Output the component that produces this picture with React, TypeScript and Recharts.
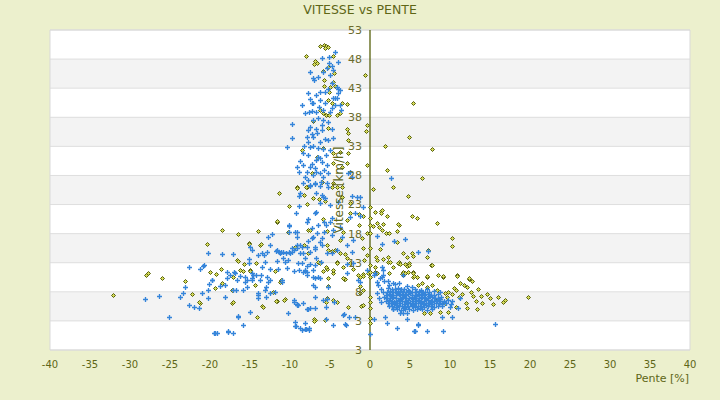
import { ScatterChart, Scatter, XAxis, YAxis, CartesianGrid, ReferenceLine, ReferenceDot } from 'recharts';

// VITESSE vs PENTE : pente [%], vitesse [km/h]

const xTicks = [-40, -35, -30, -25, -20, -15, -10, -5, 0, 5, 10, 15, 20, 25, 30, 35, 40];
const yTicks = [-2, 3, 8, 13, 18, 23, 28, 33, 38, 43, 48, 53];
const yTickLabels = ['3', '3', '8', '13', '18', '23', '28', '33', '38', '43', '48', '53'];

// blue crosses
const pointsBleus: [number, number][] = [
  // left tail
  [-20.2, 14.7], [-18.5, 14.5], [-17.1, 14.5], [-22.6, 12.3], [-20.7, 12.6], [-21.2, 11.9], [-20.1, 9.3], [-19.7, 10.0],
  [-23.4, 7.8], [-23.1, 8.8], [-23.8, 7.1], [-28.1, 6.8], [-26.4, 7.3], [-25.1, 3.7], [-22.6, 5.7], [-22.0, 5.4],
  [-21.4, 5.2], [-21.0, 7.8], [-20.2, 6.9], [-19.5, 0.9], [-19.1, 0.9], [-17.7, 1.3], [-17.1, 0.9], [-16.5, 3.7],
  [-15.9, 2.3], [-18.8, 9.0], [-18.1, 9.2], [-17.9, 10.4], [-17.5, 10.9], [-17.0, 11.4], [-16.7, 8.3], [-16.6, 10.0],
  [-16.3, 10.7], [-15.6, 10.5], [-15.6, 9.7], [-15.4, 8.8], [-15.9, 8.3], [-15.1, 13.6], [-15.1, 13.0], [-15.0, 4.5],
  [-14.8, 11.2], [-14.7, 10.4], [-14.2, 10.9], [-14.0, 7.8], [-14.0, 6.9], [-13.6, 10.9], [-13.5, 12.3], [-13.3, 14.3],
  [-13.1, 13.1], [-13.0, 8.8], [-13.0, 7.1], [-12.7, 17.4], [-12.3, 17.9], [-12.5, 16.0], [-12.5, 10.0], [-12.5, 7.8],
  [-11.9, 8.0], [-11.7, 15.0], [-11.4, 14.8], [-11.1, 14.8], [-10.9, 13.8], [-10.5, 14.7], [-10.2, 13.5], [-10.1, 19.3],
  [-10.4, 12.1], [-10.2, 4.4], [-10.0, 14.7], [-9.8, 14.9], [-9.5, 15.2], [-9.5, 6.2], [-9.4, 2.8], [-9.1, 15.5],
  [-9.1, 18.3], [-9.0, 13.0], [-9.1, 5.9], [-9.3, 2.1], [-8.7, 16.0], [-8.5, 13.0], [-8.5, 1.4], [-8.4, 11.4],
  [-8.4, 14.7], [-8.1, 2.6], [-8.1, 1.6], [-7.9, 11.4], [-7.9, 5.0], [-7.7, 16.7], [-7.5, 12.8], [-7.2, 17.2],
  [-6.9, 15.4], [-6.7, 13.8], [-6.5, 19.5], [-6.3, 10.4], [-6.1, 13.1], [-5.9, 6.6], [-5.8, 20.0], [-5.5, 3.3],
  [-5.4, 14.7],
  [-15.0, 15.7], [-14.75, 15.2], [-14.0, 14.3], [-13.5, 14.7], [-12.9, 14.8], [-11.6, 15.2], [-11.25, 14.7], [-10.9, 14.8],
  [-10.6, 13.1], [-10.1, 14.8], [-9.75, 15.5], [-9.1, 16.0], [-8.5, 15.7], [-8.75, 14.7], [-11.6, 13.3], [-9.5, 11.6],
  [-8.9, 11.7], [-8.1, 11.6], [-7.9, 12.4], [-11.5, 11.9], [-12.5, 11.9], [-12.9, 10.5], [-13.75, 10.0], [-14.6, 10.9],
  [-14.75, 10.0], [-15.4, 10.0], [-12.75, 9.7], [-11.0, 9.7], [-11.0, 10.0], [-13.1, 8.3], [-14.0, 7.5], [-17.1, 8.3],
  [-18.1, 7.1], [-19.75, 10.0], [-20.25, 8.3], [-20.9, 12.4], [-16.9, 11.2], [-17.9, 11.4], [-16.5, 3.8], [-17.75, 1.1],
  [-19.4, 0.9],
  // lower peak
  [-8.75, 25.0], [-8.9, 24.5], [-7.5, 26.2], [-6.9, 26.5], [-6.7, 25.0], [-6.1, 26.9], [-6.0, 24.6], [-5.9, 24.3],
  [-5.6, 24.1], [-5.4, 26.7], [-5.2, 26.0], [-5.0, 22.9], [-8.9, 22.7], [-9.25, 21.5], [-10.1, 19.5], [-9.4, 18.3],
  [-10.1, 18.3], [-9.1, 17.4], [-7.9, 20.0], [-7.75, 20.5], [-6.9, 21.5], [-6.7, 21.7], [-6.25, 23.3], [-7.25, 19.0],
  [-6.6, 18.1], [-7.1, 17.4], [-6.25, 16.6], [-6.0, 16.0], [-6.9, 15.7], [-7.5, 14.8], [-6.9, 12.6], [-7.1, 10.5],
  [-6.9, 10.4], [-6.5, 10.5], [-5.0, 20.0], [-4.75, 17.8], [-4.6, 18.6], [-4.1, 15.2], [-3.75, 19.1], [-2.25, 24.5],
  [-1.6, 24.3], [-1.25, 24.3], [-1.9, 21.5], [-1.25, 21.0], [-0.9, 22.6], [-2.9, 12.8], [-2.9, 11.2], [-2.1, 13.0],
  [-1.5, 10.0], [-1.25, 9.7], [-3.25, 4.2], [-3.0, 2.3], [-4.6, 2.3], [-5.5, 5.4], [-4.5, 6.2], [-6.9, 7.1],
  [-7.5, 5.2], [-7.75, 5.0], [-9.4, 2.1], [-8.75, 1.8], [-8.0, 1.6], [-7.6, 1.4], [-9.5, 6.6], [-9.1, 5.7],
  [-9.0, 5.7], [-7.6, 1.8], [-3.1, 2.5], [-3.4, 4.0], [-2.6, 3.7], [-1.9, 3.7], [-6.9, 5.2], [-8.4, 6.1],
  [-5.4, 6.8], [-7.1, 9.2], [-8.1, 11.7], [-4.75, 14.7], [-2.25, 14.8], [-2.1, 16.9], [-3.5, 17.4], [-2.9, 16.0],
  [-7.9, 15.7], [-8.1, 13.8], [-5.75, 18.3], [-5.5, 19.5], [-4.75, 20.7], [-2.5, 20.9], [-4.0, 23.4], [-6.0, 17.2],
  [-7.1, 11.7], [-7.9, 10.9], [-5.25, 8.8], [-6.9, 8.8],
  // upper peak
  [-6.0, 48.2], [-5.1, 48.4], [-4.4, 49.2], [-4.0, 47.5], [-5.1, 47.3], [-4.75, 46.8], [-5.4, 46.5], [-4.6, 46.1],
  [-5.9, 45.8], [-7.5, 45.8], [-7.1, 44.8], [-7.0, 44.4], [-6.5, 44.9], [-5.0, 45.3], [-4.75, 43.9], [-4.1, 43.2],
  [-4.0, 42.9], [-3.75, 42.7], [-4.0, 42.2], [-5.25, 42.9], [-5.6, 42.3], [-6.25, 42.3], [-6.7, 41.8], [-7.75, 42.2],
  [-7.5, 41.1], [-7.1, 40.5], [-7.25, 40.5], [-8.5, 40.1], [-6.25, 41.0], [-5.6, 40.5], [-4.6, 41.3], [-4.4, 41.3],
  [-4.1, 41.3], [-4.4, 40.1], [-3.75, 40.1], [-3.6, 39.3], [-4.75, 39.6], [-5.0, 38.9], [-5.9, 39.3], [-6.7, 38.9],
  [-8.1, 38.7], [-7.6, 38.9], [-7.25, 39.1], [-7.1, 37.5], [-7.5, 36.3], [-6.5, 37.9], [-5.9, 37.5], [-5.25, 37.2],
  [-4.75, 36.0], [-6.0, 36.7], [-9.75, 36.8], [-9.75, 34.4], [-10.4, 32.9], [-7.9, 34.6], [-7.25, 35.1], [-7.1, 34.6],
  [-6.6, 35.3], [-6.0, 35.8], [-5.6, 34.3], [-5.25, 34.1], [-4.6, 34.4], [-7.75, 33.8], [-7.5, 32.9], [-7.1, 33.1],
  [-6.5, 32.7], [-5.9, 32.5], [-5.0, 32.4], [-8.4, 31.9], [-7.75, 31.5], [-6.5, 31.2], [-6.25, 31.0], [-8.75, 30.5],
  [-8.4, 29.8], [-7.5, 29.5], [-7.25, 30.0], [-6.7, 30.7], [-6.0, 30.3], [-5.4, 29.8], [-9.1, 29.5], [-8.9, 28.6],
  [-7.9, 28.6], [-8.1, 27.7], [-7.75, 27.2], [-7.1, 28.1], [-6.7, 28.6], [-6.25, 28.4], [-5.9, 27.7], [-5.25, 28.4],
  [-8.4, 26.7], [-7.5, 26.4], [-6.9, 26.7], [-6.25, 26.2], [-2.75, 28.4], [-2.25, 27.7], [-2.5, 28.6], [-6.8, 36.0],
  [-6.3, 33.8], [-5.5, 31.5], [-7.8, 35.8], [-6.9, 29.2], [-5.8, 29.0], [-8.2, 33.0], [-6.4, 39.8],
  // right of the axis
  [2.6, 27.6], [0.9, 17.6], [1.5, 16.2], [3.0, 16.7], [4.4, 17.1], [6.0, 14.8], [0.5, 10.9], [0.85, 9.7],
  [1.5, 10.5], [1.9, 3.7], [3.4, 1.8], [4.6, 4.4], [5.6, 1.3], [6.0, 2.3], [7.1, 1.3], [9.1, 1.3],
  [7.25, 15.0], [0.0, 0.7], [0.5, 3.3],
  [1.5, 12.3], [1.6, 11.7], [1.6, 10.9], [1.25, 10.4], [1.75, 9.8], [1.0, 9.2], [1.4, 8.5], [1.6, 8.0],
  [0.9, 7.8], [1.1, 6.9], [1.4, 6.2], [1.75, 7.1], [-0.4, 11.7], [0.6, 11.2], [2.9, 9.5], [3.1, 9.3],
  [4.1, 10.9], [2.1, 2.6], [4.6, 3.3], [6.0, 2.4], [9.0, 3.7], [10.25, 3.7], [15.6, 2.5], [3.75, 4.4],
  [4.1, 4.4], [2.9, 5.0], [11.25, 6.9], [11.0, 5.2], [10.0, 5.4], [8.75, 8.0], [5.5, 1.3],
  [2.4, 9.2], [3.6, 9.6], [2.2, 9.9], [4.6, 9.0], [5.3, 8.9],
  // dense cluster
  [2.3, 8.6], [2.7, 8.4], [3.1, 8.5], [3.5, 8.6], [3.9, 8.4], [4.3, 8.5], [4.8, 8.3], [5.6, 8.4], [6.4, 8.3], [7.1, 8.4],
  [2.1, 8.0], [2.5, 8.1], [2.9, 7.9], [3.3, 8.0], [3.7, 8.1], [4.1, 7.9], [4.5, 8.0], [4.9, 8.1], [5.3, 7.9], [5.7, 8.0],
  [6.1, 8.1], [6.5, 7.9], [6.9, 8.0], [7.4, 7.9], [8.0, 8.1],
  [2.0, 7.5], [2.4, 7.6], [2.8, 7.4], [3.2, 7.5], [3.6, 7.6], [4.0, 7.4], [4.4, 7.5], [4.8, 7.6], [5.2, 7.4], [5.6, 7.5],
  [6.0, 7.6], [6.4, 7.4], [6.8, 7.5], [7.2, 7.6], [7.6, 7.4], [8.0, 7.5], [8.5, 7.6],
  [2.1, 7.0], [2.5, 6.9], [2.9, 7.1], [3.3, 7.0], [3.7, 6.9], [4.1, 7.1], [4.5, 7.0], [4.9, 6.9], [5.3, 7.1], [5.7, 7.0],
  [6.1, 6.9], [6.5, 7.1], [6.9, 7.0], [7.3, 6.9], [7.7, 7.1], [8.1, 7.0], [8.5, 6.9], [8.9, 7.1],
  [2.0, 6.5], [2.4, 6.6], [2.8, 6.4], [3.2, 6.5], [3.6, 6.6], [4.0, 6.4], [4.4, 6.5], [4.8, 6.6], [5.2, 6.4], [5.6, 6.5],
  [6.0, 6.6], [6.4, 6.4], [6.8, 6.5], [7.2, 6.6], [7.6, 6.4], [8.0, 6.5], [8.4, 6.6], [8.8, 6.4], [9.2, 6.5], [9.7, 6.6],
  [10.3, 6.4],
  [2.2, 6.0], [2.6, 6.1], [3.0, 5.9], [3.4, 6.0], [3.8, 6.1], [4.2, 5.9], [4.6, 6.0], [5.0, 6.1], [5.4, 5.9], [5.8, 6.0],
  [6.2, 6.1], [6.6, 5.9], [7.0, 6.0], [7.4, 6.1], [7.8, 5.9], [8.2, 6.0], [8.6, 6.1], [9.0, 5.9], [9.5, 6.0], [10.1, 5.9],
  [2.4, 5.5], [2.8, 5.6], [3.2, 5.4], [3.6, 5.5], [4.0, 5.6], [4.4, 5.4], [4.8, 5.5], [5.2, 5.6], [5.6, 5.4], [6.0, 5.5],
  [6.4, 5.6], [6.8, 5.4], [7.2, 5.5], [7.6, 5.6], [8.0, 5.4], [8.5, 5.5], [9.0, 5.6],
  [2.9, 5.0], [3.4, 5.1], [3.9, 4.9], [4.4, 5.0], [4.9, 5.1], [5.4, 4.9], [5.9, 5.0], [6.5, 5.1], [7.1, 4.9], [7.8, 5.0],
  [2.6, 7.25], [3.4, 7.75], [4.2, 7.25], [5.0, 7.75], [5.8, 7.25], [6.6, 7.75], [7.4, 7.25], [3.0, 6.25], [3.8, 6.75],
  [4.6, 6.25], [5.4, 6.75], [6.2, 6.25], [7.0, 6.75], [7.8, 6.25], [3.2, 5.75], [4.2, 5.25], [5.2, 5.75], [6.2, 5.25],
  [7.0, 5.75], [8.8, 6.75], [9.3, 6.25],
];

// olive diamonds
const pointsOlive: [number, number][] = [
  // peak
  [-6.25, 50.2], [-5.75, 50.4], [-5.5, 50.2], [-5.25, 50.1], [-5.6, 49.9], [-8.0, 48.5], [-4.6, 48.5], [-6.9, 47.7],
  [-6.6, 47.3], [-7.0, 47.2], [-5.25, 46.6], [-4.5, 45.6], [-5.75, 43.4], [-5.0, 43.2], [-5.1, 42.3], [-0.6, 45.3],
  [-5.25, 41.0], [-4.75, 40.5], [-3.5, 40.5], [-2.9, 40.3], [-6.25, 39.3], [-5.9, 38.7], [-5.5, 38.4], [-5.1, 38.4],
  [-4.1, 38.4], [-3.75, 38.7], [-7.1, 37.4], [-5.25, 36.2], [-2.9, 36.0], [-2.75, 35.3], [-0.4, 36.7], [-0.5, 35.6],
  [-8.5, 32.4], [-5.9, 32.7], [-4.6, 31.9], [-3.75, 32.0], [-2.75, 31.9], [-2.75, 34.1], [-6.6, 31.2], [-4.6, 30.1],
  [-3.5, 29.5], [-2.9, 30.1], [-0.4, 29.8], [-7.25, 28.4], [-9.1, 26.0], [-7.9, 26.0], [-6.0, 26.9], [-4.75, 26.0],
  [-3.5, 26.0], [-5.9, 46.0], [-5.75, 44.4], [-4.6, 44.1], [-4.4, 43.4],
  [-11.4, 25.0], [-10.1, 22.7], [-9.1, 25.8], [-8.0, 26.1], [-7.9, 23.1], [-8.25, 24.6], [-7.1, 24.1], [-6.4, 23.9],
  [-5.6, 23.6], [-4.6, 26.7], [-4.1, 26.0], [-3.5, 24.3], [-11.6, 20.0], [-10.25, 18.3], [-7.75, 18.6], [-5.9, 20.5],
  [-5.4, 18.5], [-5.4, 16.0], [-4.75, 15.0], [-3.75, 16.9], [-4.1, 13.1], [-3.4, 12.3], [-3.1, 14.5], [-2.9, 13.8],
  [-6.5, 13.1], [-7.75, 14.7], [-8.25, 16.0], [-9.4, 15.7], [-11.9, 11.6], [-11.25, 9.7], [-15.0, 11.7], [-16.6, 13.5],
  [-15.1, 16.4], [-13.75, 16.0], [-17.1, 10.5], [-5.4, 11.9], [-5.25, 9.0], [-5.25, 10.4], [-4.6, 11.2], [-3.25, 10.2],
  [-4.1, 6.2], [-10.6, 6.7], [-11.6, 6.4], [-13.5, 5.6], [-6.9, 3.2], [-17.25, 6.1], [-21.25, 6.1],
  // left tail
  [-18.5, 18.6], [-16.5, 17.9], [-14.0, 18.5], [-11.6, 20.2], [-20.4, 16.2], [-20.0, 11.4], [-19.25, 11.1], [-18.6, 11.9],
  [-16.5, 13.3], [-16.25, 11.7], [-15.9, 11.6], [-15.1, 16.2], [-13.6, 16.2], [-14.25, 13.0], [-15.75, 12.8], [-15.0, 11.6],
  [-28.0, 10.9], [-27.75, 11.2], [-26.0, 10.4], [-23.1, 9.9], [-22.25, 7.6], [-21.4, 6.2], [-19.4, 8.7], [-18.5, 9.5],
  [-17.25, 8.3], [-17.1, 6.2], [-14.4, 9.2], [-13.4, 5.4], [-14.1, 3.7], [-12.1, 8.0], [-11.75, 6.4], [-10.75, 6.6],
  [-11.1, 10.0], [-32.1, 7.4], [-7.0, 3.3], [-5.6, 3.2], [-5.4, 6.9],
  // near the axis, left
  [-1.4, 21.4], [-0.9, 21.0], [-1.4, 19.5], [-0.4, 18.1], [-1.0, 17.2], [-0.9, 15.5], [-0.4, 14.3], [-0.75, 13.5],
  [-1.5, 10.9], [-1.25, 10.5], [-0.9, 11.1], [-2.5, 13.0], [-2.1, 11.9], [-3.1, 10.2], [-3.4, 10.4], [-1.25, 9.0],
  [-0.9, 8.3], [-1.1, 5.6], [-2.75, 5.4], [-4.6, 6.6], [-5.5, 6.2], [-7.0, 3.0], [-7.5, 18.6], [-6.25, 13.0],
  [-5.5, 12.3], [-5.9, 11.6], [-4.6, 11.8], [-4.1, 13.0], [-3.75, 14.7], [-5.25, 15.2], [-4.4, 15.2], [-3.4, 18.3],
  [-2.9, 20.3], [-2.5, 21.5], [-2.5, 23.3], [-1.25, 7.8], [-0.9, 5.7], [-0.25, 11.2], [-0.9, 10.7],
  // on the axis
  [0, 22.6], [0, 20.7], [0, 19.5], [0, 18.1], [0, 15.5], [0, 12.6], [0, 11.4], [0, 10.5], [0, 7.1], [0, 6.2],
  [0, 5.2], [0, 3.5], [0, 2.6],
  // right of the axis
  [5.4, 40.5], [4.9, 34.6], [1.9, 33.1], [7.75, 32.5], [2.1, 28.9], [6.5, 27.6], [0.4, 25.7], [2.9, 26.0],
  [4.75, 24.5], [0.6, 21.7], [1.4, 21.9], [1.4, 21.5], [2.1, 21.0], [5.25, 21.0], [5.9, 20.7], [8.4, 19.8],
  [0.9, 19.8], [1.6, 19.6], [3.6, 19.5], [0.4, 19.3], [1.1, 19.1], [1.5, 18.6], [3.4, 18.5], [2.0, 18.1],
  [2.4, 18.1], [10.25, 17.3], [10.25, 15.9], [3.4, 16.6], [1.25, 15.4], [7.25, 15.2], [4.1, 14.7], [4.6, 14.0],
  [5.25, 14.7], [5.4, 14.2], [7.1, 14.0], [0.75, 14.0], [0.9, 13.5], [1.6, 13.6], [2.25, 14.0], [2.25, 13.1],
  [3.6, 13.1], [3.5, 13.0], [4.4, 12.8], [4.9, 13.0], [7.6, 12.6], [2.9, 12.3], [0.6, 11.4], [4.1, 11.4],
  [4.75, 11.4], [5.4, 11.4], [5.4, 10.5], [5.9, 10.5], [7.1, 10.5], [8.5, 10.9], [9.1, 10.5], [10.9, 10.9],
  [12.4, 10.2], [4.0, 11.0], [1.5, 22.1], [3.5, 19.6], [0.6, 12.3],
  // around the cluster
  [2.5, 13.1], [3.75, 12.8], [4.6, 12.4], [4.9, 12.6], [7.75, 12.6], [0.9, 11.2], [2.4, 11.2], [4.1, 10.9],
  [4.4, 11.2], [5.4, 11.2], [5.5, 10.7], [5.9, 10.6], [6.5, 9.5], [7.1, 10.7], [9.1, 10.7], [10.9, 10.8],
  [12.4, 10.4], [12.75, 9.9], [10.5, 8.6], [10.75, 8.3], [11.5, 7.6], [12.1, 8.8], [12.9, 7.3], [13.9, 7.3],
  [13.25, 6.4], [14.0, 6.1], [12.0, 6.1], [12.1, 5.2], [13.4, 5.0], [15.4, 5.9], [16.6, 6.2], [10.75, 5.4],
  [9.75, 4.5], [8.75, 4.5], [7.5, 4.4], [6.75, 4.4], [6.0, 9.2], [7.1, 8.8], [7.75, 9.2], [8.4, 8.3],
  [9.4, 7.8], [9.75, 8.0], [10.25, 7.6], [9.6, 7.1], [11.1, 7.1], [9.4, 6.1], [8.4, 6.6], [15.0, 6.9],
  [16.0, 7.1], [16.9, 6.6], [19.75, 7.1], [14.6, 7.6], [13.5, 8.4], [11.8, 9.2], [11.3, 9.6], [12.6, 8.0],
];

const toPoints = (arr: [number, number][]) => arr.map(([pente, vitesse]) => ({ pente, vitesse }));

const olive = '#56600c';
const textColor = '#5e6616';

// 5px plus sign, snapped to the pixel grid
const PlusShape = (props: any) => {
  const { cx, cy } = props;
  if (cx == null || cy == null) return null;
  const x = Math.round(cx) + 0.5;
  const y = Math.round(cy) + 0.5;
  return (
    <path d={`M${x - 2.5},${y}h5M${x},${y - 2.5}v5`} stroke="#3585da" strokeWidth={1.35} fill="none" />
  );
};

const DiamondShape = (props: any) => {
  const { cx, cy } = props;
  if (cx == null || cy == null) return null;
  const x = Math.round(cx) + 0.5;
  const y = Math.round(cy) + 0.5;
  const r = 2;
  return (
    <path
      d={`M${x},${y - r}L${x + r},${y}L${x},${y + r}L${x - r},${y}Z`}
      stroke={olive}
      strokeWidth={1}
      fill="#d3d85a"
    />
  );
};

const YTitle = (props: any) => {
  const { viewBox } = props;
  if (!viewBox) return null;
  const x = viewBox.x - 31;
  const y = viewBox.y;
  return (
    <text
      x={x}
      y={y}
      transform={`rotate(-90 ${x} ${y})`}
      textAnchor="middle"
      dominantBaseline="central"
      fill={textColor}
      fontSize={12}
    >
      Vitesse [km/h]
    </text>
  );
};

export default function App() {
  return (
    <div
      style={{
        position: 'absolute',
        left: 0,
        top: 0,
        width: 720,
        height: 400,
        background: '#ecf0cd',
        fontFamily: '"DejaVu Sans", sans-serif',
      }}
    >
      <div
        style={{
          position: 'absolute',
          top: 2,
          left: 0,
          width: 720,
          textAlign: 'center',
          fontSize: 12.5,
          color: textColor,
        }}
      >
        VITESSE vs PENTE
      </div>
      <div style={{ position: 'absolute', top: 372, right: 31, fontSize: 11, color: textColor }}>Pente [%]</div>
      <ScatterChart width={720} height={400} margin={{ top: 30, right: 30, bottom: 30, left: 50 }}>
        <CartesianGrid
          vertical={false}
          stroke="#dedede"
          horizontalFill={['#ffffff', '#f3f3f3']}
          fillOpacity={1}
        />
        <XAxis
          type="number"
          dataKey="pente"
          domain={[-40, 40]}
          ticks={xTicks}
          interval={0}
          height={20}
          axisLine={false}
          tickLine={false}
          tickMargin={5}
          tick={{ fill: textColor, fontSize: 10 }}
        />
        <YAxis type="number" dataKey="vitesse" domain={[-2, 53]} ticks={yTicks} interval={0} hide />
        <ReferenceLine x={-40} stroke="#d9d9d9" />
        <ReferenceLine x={40} stroke="#d9d9d9" />
        <ReferenceLine y={53} stroke="#d9d9d9" />
        <ReferenceLine y={-2} stroke="#d9d9d9" />
        <ReferenceLine x={0} stroke={olive} strokeWidth={1.3} />
        <Scatter data={toPoints(pointsOlive)} shape={DiamondShape} isAnimationActive={false} />
        <Scatter data={toPoints(pointsBleus)} shape={PlusShape} isAnimationActive={false} />
        {yTicks.map((v, i) => (
          <ReferenceDot
            key={v}
            x={0}
            y={v}
            r={0}
            fill="none"
            stroke="none"
            label={{ value: yTickLabels[i], position: 'left', offset: 8, fill: '#6b6b2c', fontSize: 11 }}
          />
        ))}
        <ReferenceDot x={0} y={25.5} r={0} fill="none" stroke="none" label={YTitle} />
      </ScatterChart>
    </div>
  );
}
